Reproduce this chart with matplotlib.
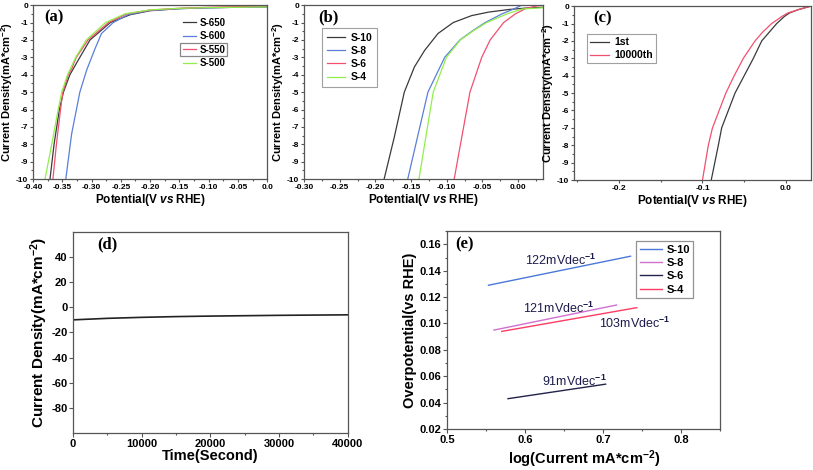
# -*- coding: utf-8 -*-
# HER polarization curves, stability and Tafel plots (5 panels)

import numpy as np
import matplotlib
matplotlib.use("Agg")
import matplotlib.pyplot as plt
from matplotlib.ticker import MultipleLocator
from matplotlib.patches import Rectangle
from matplotlib.transforms import Bbox, IdentityTransform

plt.rcParams['font.family'] = ['Liberation Sans', 'DejaVu Sans']
plt.rcParams['font.weight'] = 'bold'
plt.rcParams['axes.labelweight'] = 'bold'
plt.rcParams['axes.unicode_minus'] = False
plt.rcParams['mathtext.fontset'] = 'custom'
plt.rcParams['mathtext.rm'] = 'Liberation Sans'
plt.rcParams['mathtext.bf'] = 'Liberation Sans:bold'
plt.rcParams['mathtext.it'] = 'Liberation Sans:italic:bold'
plt.rcParams['mathtext.default'] = 'bf'

# ---------------- data ----------------
# (a) annealing temperature series: potential (V vs RHE), current density
a_labels = ["S-650", "S-600", "S-550", "S-500"]
a_colors = ["#3a3a3a", "#5a7fd8", "#f2506e", "#92ee4c"]
a_v650 = [-0.375, -0.371, -0.364, -0.355, -0.348, -0.337, -0.320, -0.3026, -0.268, -0.234, -0.20, -0.15, -0.10, -0.05, 0.0]
a_j650 = [-11.0, -10.0, -8.0, -6.0, -5.0, -4.0, -3.0, -2.0, -1.0, -0.55, -0.32, -0.20, -0.15, -0.12, -0.10]
a_v600 = [-0.347, -0.344, -0.334, -0.320, -0.308, -0.294, -0.283, -0.263, -0.238, -0.20, -0.15, -0.10, -0.05, 0.0]
a_j600 = [-11.0, -10.0, -7.4, -5.0, -3.7, -2.5, -1.63, -1.0, -0.55, -0.30, -0.20, -0.15, -0.12, -0.10]
a_v550 = [-0.369, -0.366, -0.360, -0.353, -0.349, -0.340, -0.333, -0.331, -0.326, -0.306, -0.271, -0.240, -0.20, -0.15, -0.10, -0.05, 0.0]
a_j550 = [-11.0, -10.0, -8.0, -6.0, -5.0, -4.0, -3.6, -3.4, -3.0, -2.0, -1.0, -0.50, -0.28, -0.18, -0.12, -0.08, -0.05]
a_v500 = [-0.383, -0.3795, -0.368, -0.357, -0.351, -0.341, -0.327, -0.309, -0.276, -0.243, -0.20, -0.15, -0.10, -0.05, 0.0]
a_j500 = [-11.0, -10.0, -8.0, -6.0, -5.0, -4.0, -3.0, -2.0, -1.0, -0.50, -0.27, -0.18, -0.14, -0.12, -0.10]

# (b) time series
b_labels = ["S-10", "S-8", "S-6", "S-4"]
b_colors = ["#3a3a3a", "#5a7fd8", "#f2506e", "#92ee4c"]
b_v10 = [-0.193, -0.1878, -0.1736, -0.1595, -0.1453, -0.131, -0.1123, -0.091, -0.0651, -0.0415, -0.0132, 0.010, 0.035]
b_j10 = [-11.0, -10.0, -7.6, -5.0, -3.55, -2.6, -1.63, -1.0, -0.60, -0.40, -0.25, -0.17, -0.12]
b_v8 = [-0.160, -0.1547, -0.1264, -0.1029, -0.0816, -0.063, -0.0462, -0.0226, -0.005, 0.005, 0.012]
b_j8 = [-11.0, -10.0, -5.0, -3.0, -2.0, -1.45, -1.0, -0.50, -0.20, 0.0, 0.10]
b_v6 = [-0.093, -0.0896, -0.0675, -0.051, -0.0392, -0.0203, -0.0038, 0.0104, 0.025, 0.035]
b_j6 = [-11.0, -10.0, -5.0, -3.0, -2.0, -1.0, -0.50, -0.20, -0.05, 0.0]
b_v4 = [-0.143, -0.139, -0.119, -0.1005, -0.081, -0.062, -0.044, -0.0156, 0.0057, 0.035]
b_j4 = [-11.0, -10.0, -5.0, -3.0, -2.0, -1.45, -1.0, -0.50, -0.22, -0.15]

# (c) stability: 1st vs 10000th cycle
c_v1 = [-0.092, -0.0895, -0.081, -0.077, -0.069, -0.061, -0.050, -0.039, -0.029, -0.020, -0.011, -0.002, 0.004, 0.015, 0.030]
c_j1 = [-11.0, -10.0, -8.0, -7.0, -6.0, -5.0, -4.0, -3.0, -2.0, -1.5, -1.0, -0.6, -0.4, -0.2, 0.0]
c_v2 = [-0.103, -0.100, -0.093, -0.088, -0.080, -0.072, -0.062, -0.051, -0.037, -0.028, -0.017, -0.005, 0.002, 0.015, 0.030]
c_j2 = [-11.0, -10.0, -8.0, -7.0, -6.0, -5.0, -4.0, -3.0, -2.0, -1.5, -1.0, -0.6, -0.4, -0.2, 0.0]

# (d) chronoamperometry
d_t = [0, 5000, 10000, 15000, 20000, 25000, 30000, 35000, 40000]
d_j = [-10.0, -8.8, -8.0, -7.4, -7.0, -6.7, -6.4, -6.2, -6.0]

# (e) Tafel lines
e_labels = ["S-10", "S-8", "S-6", "S-4"]
e_colors = ["#4a78d8", "#d070d0", "#22224a", "#ff3b64"]
e_x = [[0.553, 0.735], [0.560, 0.717], [0.578, 0.703], [0.570, 0.743]]
e_y = [[0.129, 0.151], [0.095, 0.114], [0.043, 0.054], [0.094, 0.112]]
e_notes = ["122mVdec$^{\\mathrm{-1}}$", "121mVdec$^{\\mathrm{-1}}$", "91mVdec$^{\\mathrm{-1}}$", "103mVdec$^{\\mathrm{-1}}$"]
e_note_xy = [(0.600, 0.1447), (0.597, 0.1079), (0.6215, 0.0529), (0.694, 0.0969)]

spine_col = "#555555"


def style_ax(ax, fs=6):
    for s in ax.spines.values():
        s.set_color(spine_col)
        s.set_linewidth(0.9)
    ax.tick_params(which="both", direction="out", top=False, right=False,
                   labelsize=fs, color=spine_col, width=0.8, pad=1)
    ax.tick_params(which="major", length=2.5)
    ax.tick_params(which="minor", length=1.5)


def panel_label(ax, txt, x=0.05, y=0.975):
    ax.text(x, y, txt, transform=ax.transAxes, ha="left", va="top",
            fontsize=12, fontweight="bold", family=["Liberation Serif", "DejaVu Serif"])


fig = plt.figure(figsize=(8.13, 4.70), dpi=100)
ylab = "Current Density(mA*cm$^{-2}$)"
xlab = "Potential(V $\\it{vs}$ RHE)"

# ---------------- (a) ----------------
ax = fig.add_axes([0.0406, 0.619, 0.288, 0.370])
for v, j, lab, col in zip([a_v650, a_v600, a_v550, a_v500], [a_j650, a_j600, a_j550, a_j500], a_labels, a_colors):
    ax.plot(v, j, color=col, lw=0.9, label=lab)
ax.set_xlim(-0.40, 0.0)
ax.set_ylim(-10, 0)
ax.set_xticks(np.arange(-0.40, 0.001, 0.05))
ax.set_xticklabels(["-0.40", "-0.35", "-0.30", "-0.25", "-0.20", "-0.15", "-0.10", "-0.05", "0.0"])
ax.set_yticks(np.arange(-10, 0.1, 1))
ax.xaxis.set_minor_locator(MultipleLocator(0.025))
ax.yaxis.set_minor_locator(MultipleLocator(0.5))
style_ax(ax)
ax.set_xlabel(xlab, fontsize=8.5, labelpad=1)
ax.set_ylabel(ylab, fontsize=8, labelpad=0.5)
panel_label(ax, "(a)", x=0.05)
leg_a = ax.legend(loc="upper right", bbox_to_anchor=(0.85, 0.966), frameon=False, fontsize=7,
                  handlelength=1.4, labelspacing=0.35, handletextpad=0.3, borderpad=0.2)

# ---------------- (b) ----------------
ax = fig.add_axes([0.374, 0.619, 0.294, 0.370])
for v, j, lab, col in zip([b_v10, b_v8, b_v6, b_v4], [b_j10, b_j8, b_j6, b_j4], b_labels, b_colors):
    ax.plot(v, j, color=col, lw=0.9, label=lab)
ax.set_xlim(-0.30, 0.035)
ax.set_ylim(-10, 0)
ax.set_xticks(np.arange(-0.30, 0.001, 0.05))
ax.set_xticklabels(["-0.30", "-0.25", "-0.20", "-0.15", "-0.10", "-0.05", "0.00"])
ax.set_yticks(np.arange(-10, 0.1, 1))
ax.xaxis.set_minor_locator(MultipleLocator(0.025))
ax.yaxis.set_minor_locator(MultipleLocator(0.5))
style_ax(ax)
ax.set_xlabel(xlab, fontsize=8.5, labelpad=1)
ax.set_ylabel(ylab, fontsize=8, labelpad=0.5)
panel_label(ax, "(b)", x=0.06)
leg = ax.legend(loc="upper left", bbox_to_anchor=(0.075, 0.868), fontsize=7.5, fancybox=False,
                edgecolor="#888888", handlelength=1.8, labelspacing=0.3, handletextpad=0.5,
                borderpad=0.45, borderaxespad=0)
leg.get_frame().set_linewidth(0.8)

# ---------------- (c) ----------------
ax = fig.add_axes([0.706, 0.617, 0.2915, 0.370])
ax.plot(c_v1, c_j1, color="#3a3a3a", lw=0.9, label="1st")
ax.plot(c_v2, c_j2, color="#f2506e", lw=0.9, label="10000th")
ax.set_xlim(-0.254, 0.030)
ax.set_ylim(-10, 0)
ax.set_xticks([-0.2, -0.1, 0.0])
ax.set_yticks(np.arange(-10, 0.1, 1))
ax.xaxis.set_minor_locator(MultipleLocator(0.05))
ax.yaxis.set_minor_locator(MultipleLocator(0.5))
style_ax(ax)
ax.set_xlabel(xlab, fontsize=8.5, labelpad=1)
ax.set_ylabel(ylab, fontsize=8, labelpad=0.5)
panel_label(ax, "(c)", x=0.08)
leg = ax.legend(loc="upper left", bbox_to_anchor=(0.055, 0.839), fontsize=7.5, fancybox=False,
                edgecolor="#888888", handlelength=1.8, labelspacing=0.3, handletextpad=0.5,
                borderpad=0.3, borderaxespad=0)
leg.get_frame().set_linewidth(0.8)

# ---------------- (d) ----------------
ax = fig.add_axes([0.0898, 0.0787, 0.338, 0.428])
ax.plot(d_t, d_j, color="#222222", lw=1.2)
ax.set_xlim(0, 40000)
ax.set_ylim(-100, 60)
ax.set_xticks(np.arange(0, 40001, 10000))
ax.set_yticks(np.arange(-80, 41, 20))
ax.xaxis.set_minor_locator(MultipleLocator(5000))
style_ax(ax, fs=8)
ax.tick_params(which="major", length=3)
ax.set_xlabel("Time(Second)", fontsize=10.5, labelpad=0)
ax.set_ylabel(ylab, fontsize=11, labelpad=1)
panel_label(ax, "(d)", x=0.087)

# ---------------- (e) ----------------
ax = fig.add_axes([0.550, 0.0872, 0.336, 0.421])
for xs, ys, lab, col in zip(e_x, e_y, e_labels, e_colors):
    ax.plot(xs, ys, color=col, lw=1.0, label=lab)
for note, (nx, ny) in zip(e_notes, e_note_xy):
    ax.text(nx, ny, note, ha="left", va="baseline", fontsize=9, fontweight="normal", color="#1c1c4c")
ax.set_xlim(0.5, 0.85)
ax.set_ylim(0.02, 0.17)
ax.set_xticks([0.5, 0.6, 0.7, 0.8])
ax.set_yticks(np.arange(0.02, 0.161, 0.02))
ax.set_yticklabels(["%.2f" % v for v in np.arange(0.02, 0.161, 0.02)])
ax.xaxis.set_minor_locator(MultipleLocator(0.05))
ax.yaxis.set_minor_locator(MultipleLocator(0.01))
style_ax(ax, fs=8)
ax.tick_params(which="major", length=3)
ax.set_xlabel("log(Current mA*cm$^{-2}$)", fontsize=10.5, labelpad=3)
ax.set_ylabel("Overpotential(vs RHE)", fontsize=10.5, labelpad=2)
panel_label(ax, "(e)", x=0.03)
leg = ax.legend(loc="upper right", bbox_to_anchor=(0.901, 0.949), fontsize=8, fancybox=False,
                edgecolor="#777777", handlelength=2.0, labelspacing=0.3, handletextpad=0.4,
                borderpad=0.3, borderaxespad=0)
leg.get_frame().set_linewidth(0.9)

# box drawn around the S-550 entry only, like in the original figure
fig.canvas.draw()
rend = fig.canvas.get_renderer()
bb = Bbox.union([leg_a.get_texts()[2].get_window_extent(rend),
                 leg_a.legend_handles[2].get_window_extent(rend)])
fig.add_artist(Rectangle((bb.x0 - 3, bb.y0 - 1.5), bb.width + 5, bb.height + 3,
                         transform=IdentityTransform(), fill=False,
                         edgecolor="#888888", lw=0.9))

fig.savefig("out.png", dpi=100)
